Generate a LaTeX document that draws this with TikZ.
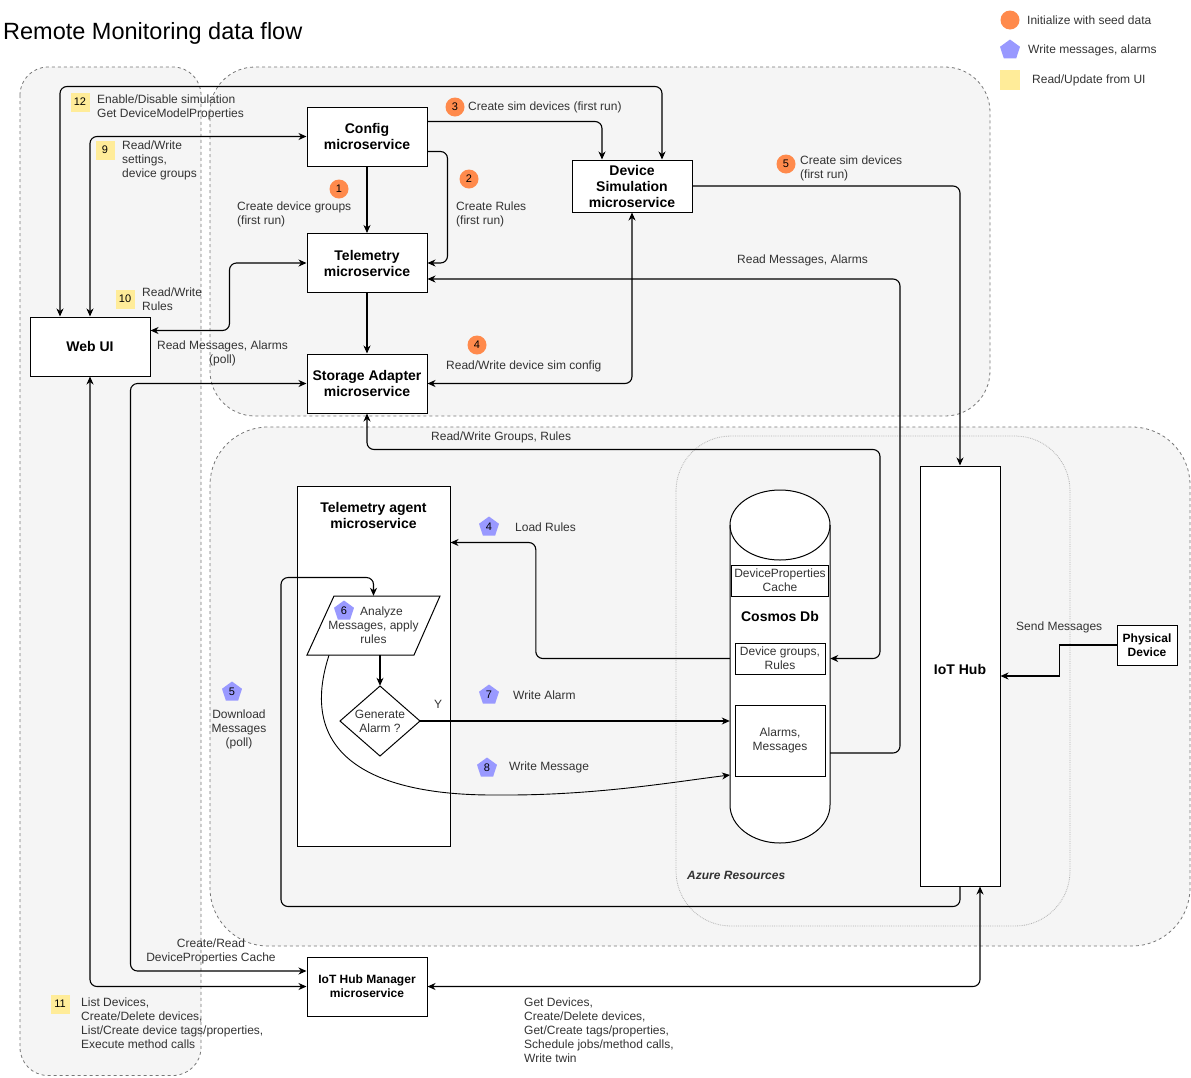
\documentclass[tikz,border=0pt]{standalone}
\usepackage{fontspec}
\setmainfont{Liberation Sans}
\usetikzlibrary{arrows.meta,shapes.geometric}
\definecolor{seed}{HTML}{FF8A4C}
\definecolor{wmsg}{HTML}{9999FF}
\definecolor{rui}{HTML}{FFEC99}
\definecolor{grp}{HTML}{F5F5F5}
\definecolor{grpline}{HTML}{777777}
\definecolor{txt}{HTML}{333333}
\begin{document}
\begin{tikzpicture}[x=1pt,y=-1pt,
  ftw/.style={font=\fontsize{12}{14}\selectfont},
  lbl/.style={font=\fontsize{12}{14}\selectfont, text=txt, align=left, anchor=west, inner sep=0pt},
  clbl/.style={font=\fontsize{12}{14}\selectfont, text=txt, align=center, inner sep=0pt},
  svc/.style={draw, fill=white, line width=1pt, align=center, inner sep=0pt, font=\fontsize{14}{16}\selectfont\bfseries, minimum width=120pt, minimum height=59pt},
  sub/.style={draw, fill=white, line width=0.9pt, align=center, inner sep=0pt, font=\fontsize{12}{14}\selectfont, text=txt},
  grpbox/.style={draw=grpline, fill=grp, dashed, line width=0.8pt},
  con/.style={line width=1.1pt, rounded corners=7pt},
  arr/.style={con, -{Stealth[length=8pt,width=7pt,inset=2.5pt]}},
  darr/.style={con, {Stealth[length=8pt,width=7pt,inset=2.5pt]}-{Stealth[length=8pt,width=7pt,inset=2.5pt]}},
  seedb/.style={circle, fill=seed, minimum size=19pt, inner sep=0pt, font=\fontsize{11}{11}\selectfont},
  wmsgb/.style={regular polygon, regular polygon sides=5, fill=wmsg, minimum size=21pt, inner sep=0pt, font=\fontsize{11}{11}\selectfont},
  ruib/.style={rectangle, fill=rui, minimum size=19pt, inner sep=0pt, font=\fontsize{11}{11}\selectfont}]

\useasboundingbox (0,0) rectangle (1191,1077);

% containers
\draw[grpbox, rounded corners=28pt] (20,67) rectangle (201,1075.5);
\draw[grpbox, rounded corners=45pt] (210,67) rectangle (990,416);
\draw[grpbox, rounded corners=58pt] (210,427) rectangle (1190,946);
\draw[draw=gray!60, fill=grp, densely dotted, line width=0.8pt, rounded corners=55pt] (676,436) rectangle (1070,926);

% title
\node[anchor=west, inner sep=0pt, font=\fontsize{23.5}{26}\selectfont] (title) at (3,33) {Remote Monitoring data flow};

% legend
\node[seedb] (lg1) at (1010,20) {};
\node[lbl] (lg1t) at (1027,20) {Initialize with seed data};
\node[wmsgb] (lg2) at (1010,50) {};
\node[lbl] (lg2t) at (1028,50) {Write messages, alarms};
\node[ruib, minimum size=20pt] (lg3) at (1010,80) {};
\node[lbl] (lg3t) at (1032,80) {Read/Update from UI};

% services
\node[svc] (config) at (367,136.5) {Config\\microservice};
\node[svc] (telem) at (367,263) {Telemetry\\microservice};
\node[svc] (storage) at (367,383.5) {Storage Adapter\\microservice};
\node[svc, minimum height=52pt] (devsim) at (632,186) {Device\\Simulation\\microservice};
\node[svc] (webui) at (90,346.5) {Web UI};
\node[svc, font=\fontsize{12}{14}\selectfont\bfseries] (hubmgr) at (367,986.5) {IoT Hub Manager\\microservice};
\node[svc, minimum width=80pt, minimum height=420pt] (iothub) at (960,676) {};
\node[font=\fontsize{14}{16}\selectfont\bfseries, inner sep=0pt] (iothubt) at (960,669) {IoT Hub};
\node[svc, minimum width=60pt, minimum height=40pt, font=\fontsize{12}{14}\selectfont\bfseries] (phys) at (1147,645) {Physical\\Device};
\node[svc, minimum width=153pt, minimum height=360pt] (agent) at (373.5,666) {};
\node[font=\fontsize{14}{16}\selectfont\bfseries, align=center, inner sep=0pt] (agentt) at (373.5,515) {Telemetry agent\\microservice};

% cosmos cylinder
\node[minimum width=100pt, minimum height=353pt, inner sep=0pt] (cosmos) at (780,666.5) {};
\draw[line width=1pt, fill=white] (730,525) -- (730,805) arc[start angle=180,end angle=360,x radius=50pt,y radius=38pt] -- (830,525) arc[start angle=0,end angle=180,x radius=50pt,y radius=35pt] -- cycle;
\draw[line width=1pt] (730,525) arc[start angle=180,end angle=360,x radius=50pt,y radius=35pt];
\node[sub, minimum width=97pt, minimum height=31pt] (dpc) at (780,580.5) {DeviceProperties\\Cache};
\node[font=\fontsize{14}{16}\selectfont\bfseries, inner sep=0pt] (cosmost) at (780,616) {Cosmos Db};
\node[sub, minimum width=90pt, minimum height=31pt] (dgr) at (780,658.5) {Device groups,\\Rules};
\node[sub, minimum width=90pt, minimum height=71pt] (alm) at (780,740.5) {Alarms,\\Messages};

% parallelogram
\draw[line width=1pt, fill=white] (334,596) -- (440,596) -- (414,655) -- (307,655) -- cycle;
\node[minimum width=107pt, minimum height=59pt, inner sep=0pt, align=center, ftw, text=txt] (analyze) at (373.5,625.5) {\hspace*{16pt}Analyze\\Messages, apply\\rules};

% diamond
\draw[line width=1pt, fill=white] (380,686) -- (420,721) -- (380,756) -- (340,721) -- cycle;
\node[minimum width=80pt, minimum height=70pt, inner sep=0pt, ftw, align=center, text=txt] (gen) at (380,721) {Generate\\Alarm ?};

% badges
\node[seedb] (b1) at (339,189) {1};
\node[seedb] (b2) at (469,179) {2};
\node[seedb] (b3) at (455,107) {3};
\node[seedb] (b4) at (477,345) {4};
\node[seedb] (b5) at (786,164) {5};
\node[ruib] (y12) at (80,102) {12};
\node[ruib] (y9) at (105,150) {9};
\node[ruib] (y10) at (125,299) {10};
\node[ruib] (y11) at (60,1004) {11};
\node[wmsgb] (p4) at (489,527) {4};
\node[wmsgb] (p6) at (344,611) {6};
\node[wmsgb] (p5) at (232,692) {5};
\node[wmsgb] (p7) at (489,695) {7};
\node[wmsgb] (p8) at (487,768) {8};

% labels
\node[lbl] (l12) at (97,107.5) {Enable/Disable simulation\\Get DeviceModelProperties};
\node[lbl] (l9) at (122,160) {Read/Write\\settings,\\device groups};
\node[lbl] (l10) at (142,299) {Read/Write\\Rules};
\node[clbl] (lrm) at (222.5,353) {Read Messages, Alarms\\(poll)};
\node[lbl] (l1) at (237,214) {Create device groups\\(first run)};
\node[lbl] (l2) at (456,214) {Create Rules\\(first run)};
\node[lbl] (l3) at (468,107) {Create sim devices (first run)};
\node[lbl] (l4) at (446,366) {Read/Write device sim config};
\node[lbl] (l5) at (800,168) {Create sim devices\\(first run)};
\node[lbl] (lrm2) at (737,260) {Read Messages, Alarms};
\node[lbl] (lrwg) at (431,437) {Read/Write Groups, Rules};
\node[lbl] (llr) at (515,527) {Load Rules};
\node[lbl] (lwa) at (513,695) {Write Alarm};
\node[clbl] (ly) at (438,704) {Y};
\node[lbl] (lwm) at (509,767) {Write Message};
\node[clbl] (ldl) at (239,729) {Download\\Messages\\(poll)};
\node[lbl] (lsm) at (1016,627) {Send Messages};
\node[lbl, font=\fontsize{12}{14}\selectfont\bfseries\itshape] (laz) at (687,875) {Azure Resources};
\node[clbl] (lcr) at (211,951) {Create/Read\\DeviceProperties Cache};
\node[lbl] (l11) at (81,1023) {List Devices,\\Create/Delete devices,\\List/Create device tags/properties,\\Execute method calls};
\node[lbl] (lgd) at (524,1030) {Get Devices,\\Create/Delete devices,\\Get/Create tags/properties,\\Schedule jobs/method calls,\\Write twin};

% connectors
\draw[darr] ([xshift=-30pt]webui.north) -- ++(0,-230) -| ([xshift=30pt]devsim.north);
\draw[darr] (webui.north) |- (config.west);
\draw[darr] (telem.west) -- ++(-77,0) |- ([yshift=16pt]webui.east);
\draw[arr] (config.south) -- (telem.north);
\draw[arr] ([yshift=-15pt]config.east) -- ++(20,0) |- (telem.east);
\draw[arr] ([yshift=15pt]config.east) -| ([xshift=-30pt]devsim.north);
\draw[arr] (telem.south) -- (storage.north);
\draw[darr] (storage.east) -| (devsim.south);
\draw[arr] (devsim.east) -| (iothub.north);
\coordinate (almout) at (830,753);
\draw[arr] (almout) -- ++(70,0) |- ([yshift=-16pt]telem.east);
\draw[darr] (storage.south) -- ++(0,36) -- ++(513,0) |- (cosmos.east |- dgr);
\draw[arr] (cosmos.west |- dgr) -- ++(-194,0) |- ([yshift=-57pt]agent.north east);
\draw[arr] (gen.east) -- (cosmos.west |- gen);
\coordinate (wmin) at (730,775);
\draw[arr, line width=0.9pt] ([xshift=-44.5pt]analyze.south) .. controls (295,760) and (380,795) .. (500,795) .. controls (600,795) and (680,781) .. (wmin);
\draw[arr] (gen.north |- analyze.south) -- (gen.north);
\draw[arr] (iothub.south) -- ++(0,20) -- ++(-679,0) -- ++(0,-329) -| (analyze.north);
\draw[darr] (storage.west) -- ++(-176,0) |- ([yshift=15.5pt]hubmgr.west);
\draw[darr] (webui.south) |- (hubmgr.west);
\draw[darr] (hubmgr.east) -| ([xshift=20pt]iothub.south);
\draw[arr, rounded corners=0pt] (phys.west) -- ++(-57,0) |- (iothub.east);

\end{tikzpicture}
\end{document}
